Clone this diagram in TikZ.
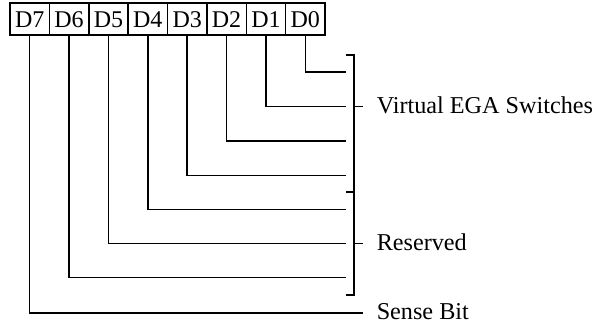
\documentclass[tikz,border=0pt]{standalone}
\usepackage{fontspec}
\setmainfont{Liberation Serif}
\begin{document}
\begin{tikzpicture}[x=0.5pt,y=-0.5pt,line width=0.75pt,
  bitbox/.style={draw,minimum width=19.69pt,minimum height=16pt,inner sep=0pt,
    text height=9pt,text depth=0pt,font=\fontsize{12}{14}\selectfont},
  lbl/.style={anchor=base west,inner sep=0pt,font=\fontsize{12.1}{14}\selectfont}]
\useasboundingbox (0,0) rectangle (610,325);
% bit boxes
\node[bitbox] (b7) at (29.69,19) {D7};
\node[bitbox] (b6) at (69.06,19) {D6};
\node[bitbox] (b5) at (108.44,19) {D5};
\node[bitbox] (b4) at (147.81,19) {D4};
\node[bitbox] (b3) at (187.19,19) {D3};
\node[bitbox] (b2) at (226.56,19) {D2};
\node[bitbox] (b1) at (265.94,19) {D1};
\node[bitbox] (b0) at (305.31,19) {D0};
% line end points
\coordinate (e0) at (346,72);
\coordinate (e1) at (346,106.5);
\coordinate (e2) at (346,141);
\coordinate (e3) at (346,175.5);
\coordinate (e4) at (346,209.5);
\coordinate (e5) at (346,243.5);
\coordinate (e6) at (346,277.5);
\coordinate (e7) at (363,313);
\foreach \i in {0,...,7}{\draw (b\i.south) |- (e\i);}
% bracket
\coordinate (t1) at (346,55);
\coordinate (t2) at (346,192);
\coordinate (t3) at (346,295);
\draw (t1) -- (354,55) -- (354,295) -- (t3);
\draw (t2) -- (354,192);
\coordinate (k1) at (363,106.5);
\coordinate (k2) at (363,243.5);
\draw (354,106.5) -- (k1);
\draw (354,243.5) -- (k2);
% labels
\node[lbl] (l1) at (376,114) {Virtual EGA Switches};
\node[lbl] (l2) at (376,251) {Reserved};
\node[lbl] (l3) at (376,320) {Sense Bit};
\end{tikzpicture}
\end{document}
